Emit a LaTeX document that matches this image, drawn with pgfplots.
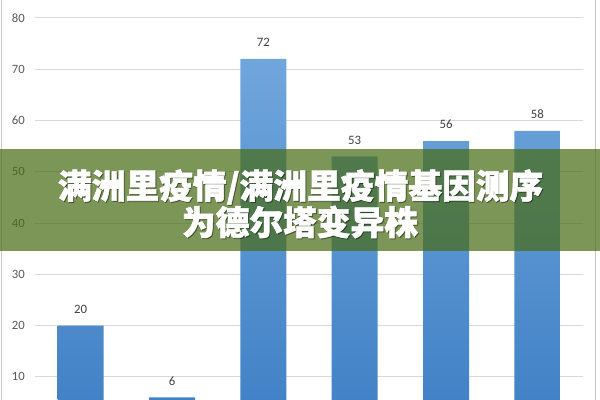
\documentclass[border=0pt]{standalone}
\usepackage{fontspec}
\setmainfont{Carlito}
\newfontfamily\cjk{Noto Sans CJK SC}[BoldFeatures={FakeBold=1.6}]
\usepackage{pgfplots}
\pgfplotsset{compat=1.18}
\definecolor{gridgray}{RGB}{217,217,217}
\definecolor{labelgray}{RGB}{89,89,89}
\definecolor{bartop}{RGB}{112,166,220}
\definecolor{barbot}{RGB}{66,130,198}
\definecolor{banner}{RGB}{74,109,23}

\begin{document}
\begin{tikzpicture}
\clip (0,0) rectangle (450pt,300pt);
\useasboundingbox (0,0) rectangle (450pt,300pt);
% chart area border
\draw[gray!45, line width=0.75pt] (0.75pt,-5pt) -- (0.75pt,305pt);
\draw[gray!45, line width=0.75pt] (446.25pt,-5pt) -- (446.25pt,305pt);
\begin{axis}[
  at={(26.25pt,0pt)}, anchor=south west,
  scale only axis,
  width=411pt, height=300pt,
  xmin=-0.5, xmax=5.5,
  ymin=5.5, ymax=83.5,
  xtick=\empty,
  ytick={10,20,...,80},
  axis line style={draw=none},
  major tick length=0pt,
  ymajorgrids,
  grid style={gridgray, line width=0.75pt},
  yticklabel style={font=\fontsize{9.5}{11}\selectfont, text=labelgray, inner sep=0pt, anchor=east, xshift=-7.5pt},
  /pgf/number format/assume math mode=true,
  ybar, bar width=34.5pt,
  nodes near coords,
  every node near coord/.append style={font=\fontsize{9.6}{11}\selectfont, text=black!75, anchor=south, inner sep=0pt, yshift=9pt},
]
\addplot[draw=none, top color=bartop, bottom color=barbot] coordinates {
  (0,20) (1,6) (2,72) (3,53) (4,56) (5,58)
};
\end{axis}
% title banner over the chart
\fill[banner, fill opacity=0.72] (0,111.75pt) rectangle (450pt,188.25pt);
\begin{scope}[font=\cjk\bfseries\fontsize{25.3}{30}\selectfont]
\node[text=black, opacity=0.35] at (226.2pt,159pt) {满洲里疫情/满洲里疫情基因测序};
\node[text=black, opacity=0.35] at (225.7pt,132.75pt) {为德尔塔变异株};
\node[text=white] at (225.5pt,159.75pt) {满洲里疫情/满洲里疫情基因测序};
\node[text=white] at (225pt,133.5pt) {为德尔塔变异株};
\end{scope}
\end{tikzpicture}
\end{document}
